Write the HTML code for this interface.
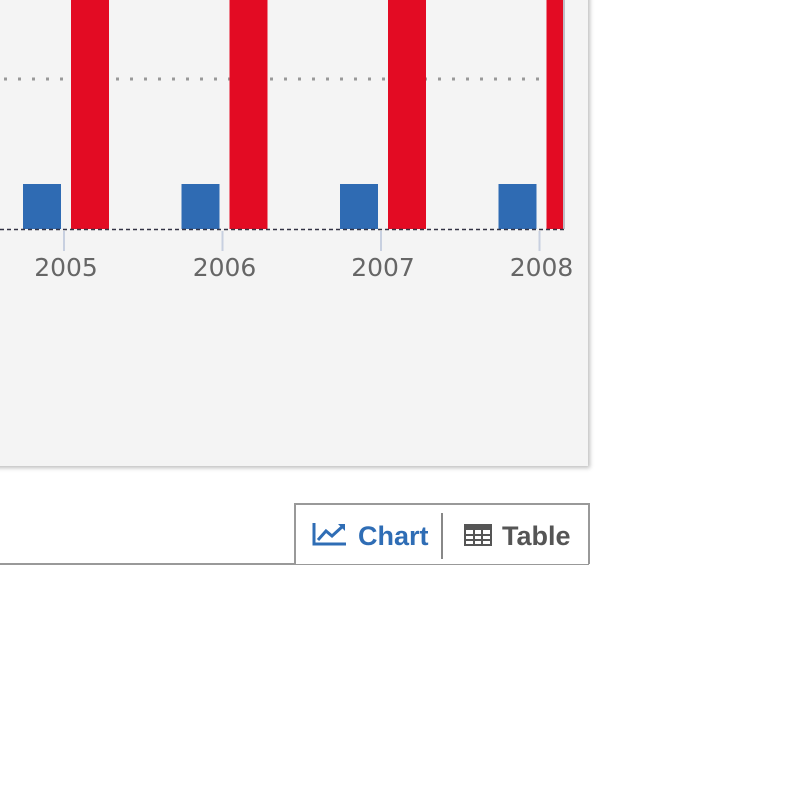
<!DOCTYPE html>
<html><head><meta charset="utf-8"><style>
body{margin:0;width:794px;height:794px;background:#fff;overflow:hidden;font-family:"Liberation Sans",sans-serif;position:relative}
#panel{position:absolute;left:-10px;top:-10px;width:598px;height:476px;background:#f4f4f4;box-shadow:2px 2px 4px rgba(0,0,0,0.25)}
#bar{position:absolute;left:0;top:563px;width:589px;height:2px;background:#999}
#btns{position:absolute;left:294px;top:503px;width:292px;height:59px;border:2px solid #999;border-bottom:none;background:#fff}
.btn{position:absolute;top:0;height:59px;line-height:62px;font-size:27px;font-weight:bold}
#sep{position:absolute;left:145px;top:8px;width:2px;height:46px;background:#888}
</style></head><body>
<div id="panel"></div>
<svg id="chart" width="794" height="794" style="position:absolute;left:0;top:0">
</svg>
<div id="bar"></div>
<div id="btns">
 <div class="btn" style="left:16px;color:#2f6db5;">
  <svg width="36" height="26" style="vertical-align:-2px;margin-right:10px"><polyline points="2,2 2,23 34,23" fill="none" stroke="#2f6db5" stroke-width="3"/><polyline points="6,19 14,10 20,15 31,5" fill="none" stroke="#2f6db5" stroke-width="3"/><polygon points="26,3 33,3 33,10" fill="#2f6db5"/></svg>Chart</div>
 <div id="sep"></div>
 <div class="btn" style="left:168px;color:#555;">
  <svg width="28" height="22" style="vertical-align:-1px;margin-right:10px"><rect x="1" y="1" width="26" height="20" fill="none" stroke="#555" stroke-width="2"/><rect x="1" y="1" width="26" height="5" fill="#555"/><line x1="10" y1="6" x2="10" y2="21" stroke="#555" stroke-width="2"/><line x1="18" y1="6" x2="18" y2="21" stroke="#555" stroke-width="2"/><line x1="1" y1="11" x2="27" y2="11" stroke="#555" stroke-width="2"/><line x1="1" y1="16" x2="27" y2="16" stroke="#555" stroke-width="2"/></svg>Table</div>
</div>
<script>
const categories=["2005","2006","2007","2008"];
const blueValues=[3,3,3,3];
const redValues=[20,20,20,20];
const gridValues=[10];
const svg=document.getElementById('chart');
const NS='http://www.w3.org/2000/svg';
const base=229, pxPer=15;
const y=v=>base-v*pxPer;
const xCenter=i=>65+i*158.5;
function mk(t,a){const e=document.createElementNS(NS,t);for(const k in a)e.setAttribute(k,a[k]);svg.appendChild(e);return e;}
gridValues.forEach(g=>{
 const l=mk('line',{x1:4,x2:545,y1:y(g),y2:y(g),stroke:'#999','stroke-width':3,'stroke-dasharray':'3,11'});
 
 
});
categories.forEach((c,i)=>{
 const cx=xCenter(i);
 const b=mk('rect',{x:cx-42,y:y(blueValues[i]),width:38,height:base-y(blueValues[i]),fill:'#2f6bb3'});
 
 
 let rw=Math.min(38,563-(cx+6));
 const r=mk('rect',{x:cx+6,y:y(redValues[i]),width:rw,height:base-y(redValues[i]),fill:'#e30b23'});
 
 
 const t=mk('line',{x1:cx-1,x2:cx-1,y1:231,y2:251,stroke:'#c8d0e0','stroke-width':2});
 
 
 const tx=mk('text',{x:cx+1,y:276,'text-anchor':'middle','font-size':25,fill:'#666','font-family':'DejaVu Sans, sans-serif'});
 tx.textContent=c;
 
 
});
const ax=mk('line',{x1:0,x2:564,y1:base+0.5,y2:base+0.5,stroke:'#334','stroke-width':1.5,'stroke-dasharray':'4,3'});


const rb=mk('line',{x1:564,x2:564,y1:0,y2:base,stroke:'#889','stroke-width':1});


</script>
</body></html>
